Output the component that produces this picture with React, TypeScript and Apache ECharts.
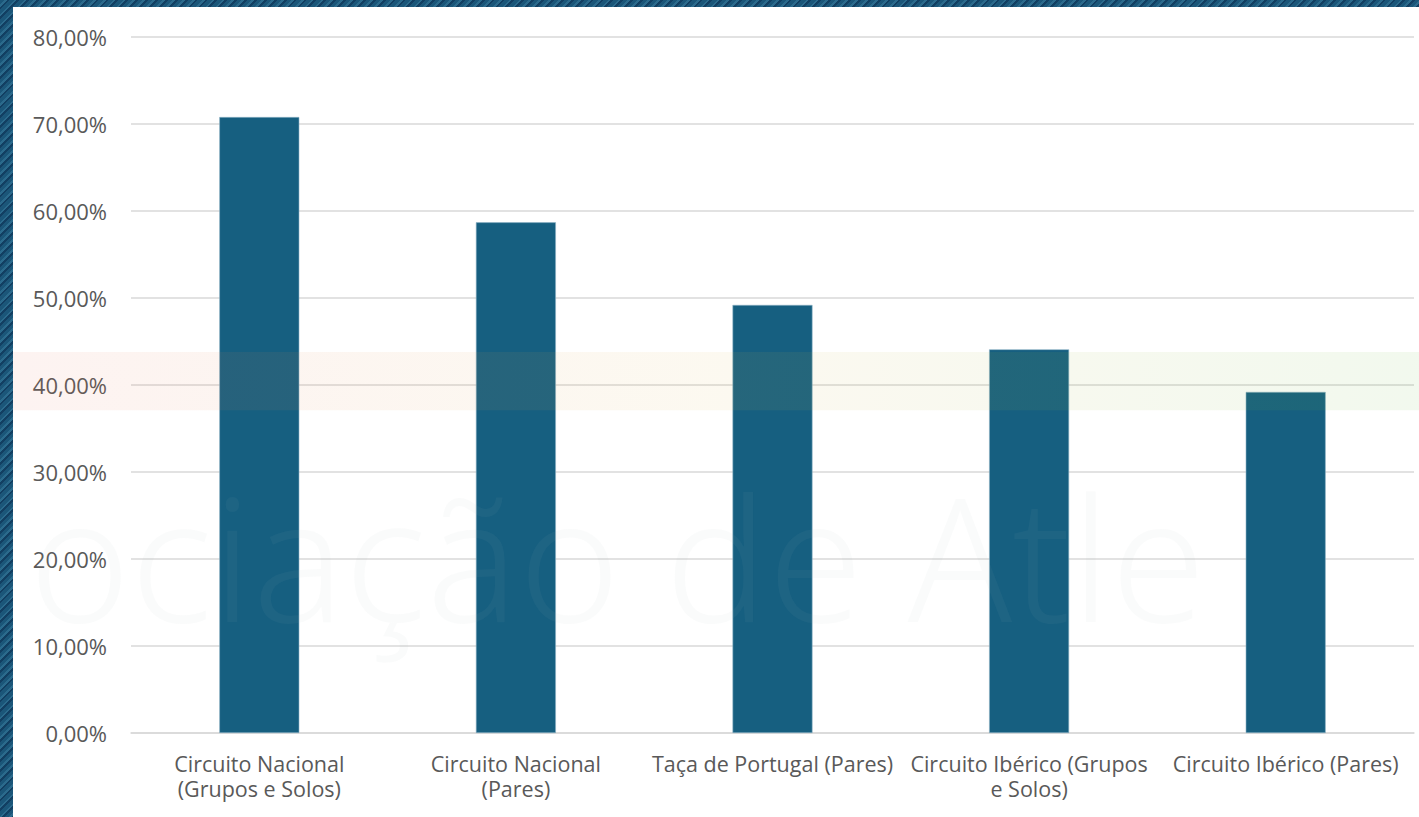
import React, { useEffect, useRef } from "react";
import * as echarts from "echarts";

const categories = [
  "Circuito Nacional\n(Grupos e Solos)",
  "Circuito Nacional\n(Pares)",
  "Taça de Portugal (Pares)",
  "Circuito Ibérico (Grupos\ne Solos)",
  "Circuito Ibérico (Pares)",
];
const values = [70.8, 58.7, 49.2, 44.1, 39.2];
const yTicks = { min: 0, max: 80, interval: 10 };
const bandRange = [37.1, 43.8];
const watermark = "ociação de Atle";

export default function App() {
  const ref = useRef<HTMLDivElement>(null);
  useEffect(() => {
    if (!ref.current) return;
    const chart = echarts.init(ref.current, undefined, { renderer: "svg" });
    const gridTop = 30;
    const gridBottom = 84;
    const H = 810;
    const plotH = H - gridTop - gridBottom;
    const yOf = (v: number) => gridTop + plotH * (1 - (v - yTicks.min) / (yTicks.max - yTicks.min));
    chart.setOption({
      animation: false,
      backgroundColor: "#ffffff",
      grid: { left: 118, right: 5, top: gridTop, bottom: gridBottom, containLabel: false },
      xAxis: {
        type: "category",
        data: categories,
        axisLine: { show: true, lineStyle: { color: "#d9d9d9", width: 1.5 } },
        axisTick: { show: false },
        axisLabel: {
          color: "#595959",
          fontFamily: "Open Sans",
          fontSize: 21.5,
          lineHeight: 25,
          margin: 18,
          interval: 0,
        },
      },
      yAxis: {
        type: "value",
        min: yTicks.min,
        max: yTicks.max,
        interval: yTicks.interval,
        axisLine: { show: false },
        axisTick: { show: false },
        splitLine: { lineStyle: { color: "#d9d9d9", width: 1.5 } },
        axisLabel: {
          color: "#595959",
          fontFamily: "Open Sans",
          fontSize: 22,
          margin: 24,
          formatter: (v: number) => v.toFixed(2).replace(".", ",") + "%",
        },
      },
      series: [
        {
          type: "bar",
          data: values,
          barWidth: 80,
          itemStyle: { color: "#165f80", borderColor: "#8fb3c6", borderWidth: 0.6 },
        },
      ],
      graphic: [
        {
          type: "text",
          left: 16,
          top: 462,
          z: 50,
          silent: true,
          style: {
            text: watermark,
            fontFamily: "Noto Sans",
            fontWeight: 300,
            fontSize: 172,
            fill: "rgba(170,185,195,0.06)",
          },
        },
        {
          type: "rect",
          z: 60,
          silent: true,
          shape: { x: 0, y: yOf(bandRange[1]), width: 1406, height: yOf(bandRange[0]) - yOf(bandRange[1]) },
          style: {
            fill: new echarts.graphic.LinearGradient(0, 0, 1, 0, [
              { offset: 0, color: "rgba(230,105,80,0.08)" },
              { offset: 0.5, color: "rgba(220,180,70,0.08)" },
              { offset: 1, color: "rgba(90,180,40,0.08)" },
            ]),
          },
        },
      ],
    });
    return () => chart.dispose();
  }, []);
  return (
    <div
      style={{
        position: "fixed",
        left: 0,
        top: 0,
        width: 1419,
        height: 817,
        background:
          "repeating-linear-gradient(135deg, #1b5679 0px, #1b5679 3px, #2b6a8c 3px, #2b6a8c 5px, #123f62 5px, #123f62 7px)",
        overflow: "hidden",
      }}
    >
      <div
        ref={ref}
        style={{ position: "absolute", left: 13, top: 7, width: 1406, height: 810, background: "#ffffff" }}
      />
    </div>
  );
}
